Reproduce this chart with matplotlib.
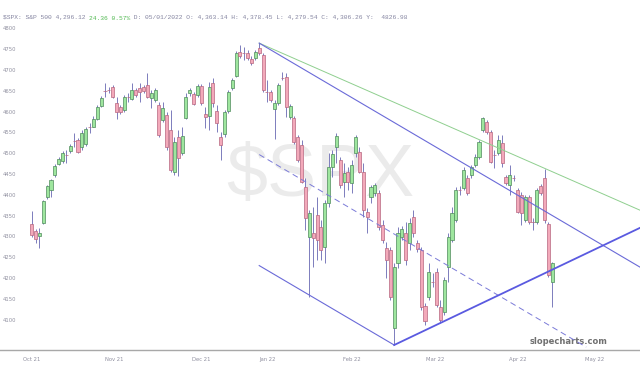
import matplotlib
matplotlib.use("Agg")
import matplotlib.pyplot as plt

# daily candles, values
opens = [4331, 4314, 4302, 4333, 4396, 4413, 4449, 4475, 4482, 4498,
         4507, 4531, 4533, 4516, 4523, 4565, 4564, 4584, 4615, 4651,
         4654, 4660, 4622, 4612, 4605, 4637, 4632, 4653, 4658, 4660,
         4665, 4634, 4629, 4617, 4581, 4593, 4557, 4456, 4540, 4502,
         4586, 4646, 4644, 4641, 4663, 4596, 4591, 4670, 4603, 4540,
         4547, 4603, 4658, 4687, 4745, 4743, 4742, 4728, 4730, 4754,
         4737, 4649, 4648, 4608, 4622, 4682, 4685, 4588, 4586, 4540,
         4521, 4420, 4300, 4309, 4353, 4324, 4276, 4382, 4468, 4516,
         4485, 4432, 4456, 4430, 4502, 4504, 4456, 4360, 4396, 4406,
         4406, 4329, 4273, 4268, 4081, 4237, 4300, 4309, 4285, 4348,
         4285, 4268, 4134, 4155, 4192, 4216, 4131, 4119, 4228, 4292,
         4341, 4413, 4418, 4442, 4449, 4473, 4492, 4557, 4576, 4552,
         4497, 4502, 4526, 4444, 4425, 4442, 4413, 4401, 4341, 4396,
         4336, 4336, 4422, 4442, 4331, 4192]
closes = [4305, 4295, 4309, 4386, 4422, 4437, 4470, 4487, 4502, 4496,
          4519, 4530, 4504, 4550, 4559, 4564, 4584, 4612, 4634, 4650,
          4653, 4636, 4600, 4600, 4636, 4636, 4653, 4641, 4648, 4651,
          4636, 4646, 4653, 4545, 4610, 4516, 4461, 4528, 4490, 4543,
          4636, 4653, 4620, 4663, 4622, 4588, 4660, 4622, 4574, 4521,
          4600, 4648, 4677, 4742, 4735, 4742, 4730, 4718, 4745, 4742,
          4653, 4648, 4629, 4622, 4665, 4681, 4612, 4615, 4528, 4485,
          4432, 4345, 4357, 4297, 4292, 4268, 4382, 4468, 4499, 4543,
          4425, 4454, 4432, 4473, 4540, 4456, 4365, 4348, 4420, 4425,
          4324, 4292, 4244, 4155, 4228, 4309, 4319, 4244, 4333, 4309,
          4271, 4131, 4098, 4216, 4191, 4136, 4100, 4196, 4300, 4357,
          4413, 4412, 4461, 4406, 4468, 4492, 4528, 4586, 4552, 4480,
          4496, 4533, 4478, 4430, 4449, 4441, 4360, 4357, 4396, 4336,
          4335, 4413, 4406, 4341, 4208, 4237]
highs = [4362, 4319, 4321, 4389, 4425, 4439, 4475, 4492, 4506, 4509,
         4523, 4550, 4538, 4557, 4564, 4574, 4591, 4617, 4639, 4670,
         4660, 4665, 4636, 4617, 4641, 4646, 4670, 4658, 4670, 4665,
         4694, 4653, 4658, 4624, 4624, 4600, 4605, 4540, 4557, 4564,
         4646, 4658, 4648, 4668, 4668, 4612, 4672, 4682, 4617, 4552,
         4605, 4653, 4682, 4747, 4761, 4757, 4749, 4735, 4749, 4766,
         4742, 4677, 4653, 4629, 4670, 4697, 4694, 4620, 4591, 4545,
         4533, 4442, 4365, 4372, 4396, 4341, 4389, 4502, 4509, 4550,
         4492, 4478, 4468, 4485, 4545, 4516, 4478, 4369, 4425, 4430,
         4413, 4341, 4288, 4276, 4237, 4324, 4326, 4336, 4345, 4365,
         4292, 4276, 4141, 4237, 4213, 4225, 4148, 4204, 4309, 4372,
         4420, 4422, 4468, 4449, 4473, 4499, 4533, 4588, 4581, 4557,
         4509, 4545, 4545, 4449, 4473, 4449, 4418, 4408, 4401, 4401,
         4345, 4418, 4427, 4463, 4336, 4240]
lows = [4300, 4285, 4273, 4331, 4391, 4396, 4444, 4473, 4478, 4478,
        4502, 4516, 4502, 4509, 4518, 4550, 4564, 4581, 4612, 4636,
        4646, 4634, 4584, 4596, 4600, 4624, 4629, 4636, 4624, 4646,
        4634, 4610, 4624, 4540, 4576, 4509, 4456, 4449, 4446, 4497,
        4584, 4639, 4617, 4636, 4617, 4562, 4557, 4612, 4552, 4485,
        4540, 4598, 4653, 4685, 4730, 4725, 4725, 4713, 4725, 4737,
        4648, 4624, 4624, 4535, 4617, 4677, 4588, 4584, 4523, 4480,
        4430, 4317, 4155, 4228, 4244, 4244, 4237, 4372, 4444, 4478,
        4418, 4396, 4413, 4406, 4492, 4454, 4348, 4309, 4382, 4398,
        4317, 4285, 4201, 4148, 4040, 4225, 4292, 4232, 4268, 4300,
        4264, 4124, 4088, 4148, 4180, 4131, 4093, 4112, 4192, 4287,
        4336, 4401, 4413, 4401, 4442, 4468, 4487, 4552, 4547, 4478,
        4466, 4497, 4468, 4425, 4401, 4434, 4357, 4329, 4336, 4331,
        4317, 4331, 4401, 4333, 4204, 4131]

month_labels = ["Oct 21", "Nov 21", "Dec 21", "Jan 22", "Feb 22", "Mar 22", "Apr 22", "May 22"]
month_pos = [0, 21.5, 44, 61.2, 83, 104.7, 126, 146.1]
price_ticks = list(range(4100, 4801, 50))

# trendlines as (index, price) anchor pairs
green_line = [(59, 4766), (157.8, 4364)]
upper_line = [(59, 4766), (157.8, 4227)]
lower_line = [(59, 4231), (94, 4040)]
mid_line = [(59, 4498), (143.8, 4035)]
rising_line = [(94, 4040), (157.8, 4322)]

header_a = "$SPX: S&P 500 4,296.12 "
header_b = "24.36 0.57%"
header_c = " D: 05/01/2022 O: 4,363.14 H: 4,378.45 L: 4,279.54 C: 4,306.26 Y:  4826.98"

fig = plt.figure(figsize=(6.4, 3.65), dpi=100)
ax = fig.add_axes([0, 15 / 365, 1, 350 / 365])
ax.set_xlim(-8.22, 157.75)
ax.set_ylim(4028, 4869.7)

ax.text(0.5, 0.497, "$SPX", transform=ax.transAxes, ha="center", va="center",
        fontsize=53, family="Liberation Sans", color="#ebebeb", zorder=0)

idx = list(range(len(opens)))
up = [c >= o for o, c in zip(opens, closes)]
ax.vlines(idx, lows, highs, color="#7c7cbc", lw=0.7, zorder=2)
bottoms = [min(o, c) for o, c in zip(opens, closes)]
heights = [max(abs(c - o), 1.2) for o, c in zip(opens, closes)]
fills = ["#9ee69e" if u else "#f3a9ba" for u in up]
edges = ["#4f8a5c" if u else "#b76680" for u in up]
ax.bar(idx, heights, bottom=bottoms, width=0.8, color=fills, edgecolor=edges,
       linewidth=0.5, zorder=3)

for line, col, lw, ls in [(green_line, "#8fcf8f", 0.7, "-"),
                          (upper_line, "#6a6ad8", 0.8, "-"),
                          (lower_line, "#6a6ad8", 0.8, "-"),
                          (mid_line, "#7a7ad8", 0.7, (0, (6, 4))),
                          (rising_line, "#5a5ae0", 1.3, "-")]:
    (x0, y0), (x1, y1) = line
    ax.plot([x0, x1], [y0, y1], color=col, lw=lw, ls=ls, zorder=4, clip_on=False)

for p in price_ticks:
    ax.text(3 / 640, p, str(p), transform=ax.get_yaxis_transform(), fontsize=3.8,
            color="#9090a0", va="center", ha="left")

ax.set_xticks(month_pos)
ax.set_xticklabels(month_labels, fontsize=3.8, color="#9090a0")
ax.tick_params(axis="x", length=0, pad=5)
ax.set_yticks([])
for s in ["top", "left", "right"]:
    ax.spines[s].set_visible(False)
ax.spines["bottom"].set_color("#a8a8a8")
ax.spines["bottom"].set_linewidth(1.0)

ax.text(608 / 640, 8 / 350, "slopecharts.com", transform=ax.transAxes, ha="right",
        va="center", fontsize=6, color="#707070", fontweight="bold", family="DejaVu Sans")

cw = 0.6 * 4.5 * 100 / 72  # monospace char width in px
hy = 1 - 18 / 365
fig.text(3 / 640, hy, header_a, fontsize=4.5, family="Liberation Mono", color="#8484a0", va="center")
fig.text((3 + len(header_a) * cw) / 640, hy, header_b, fontsize=4.5, family="Liberation Mono",
         color="#50b850", va="center")
fig.text((3 + (len(header_a) + len(header_b)) * cw) / 640, hy, header_c, fontsize=4.5,
         family="Liberation Mono", color="#8484a0", va="center")

fig.savefig("out.png", dpi=100)
